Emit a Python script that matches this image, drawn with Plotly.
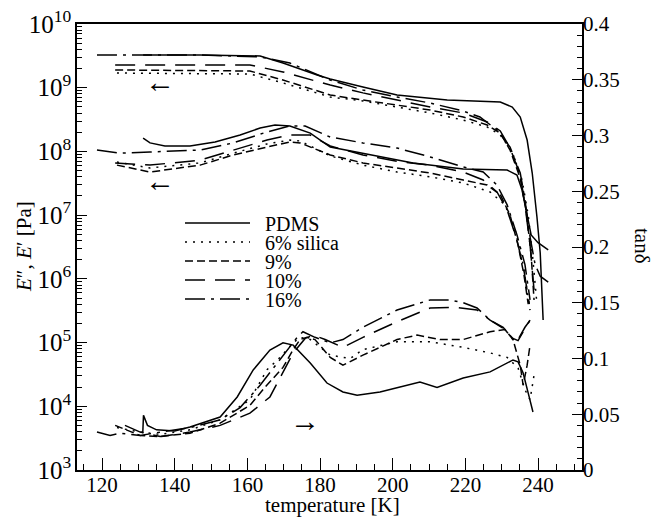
import plotly.graph_objects as go

# ---- data (temperature in K) ----
samples = ["PDMS", "6% silica", "9%", "10%", "16%"]

# storage modulus E' [Pa]
Es_T_pdms = [131.3, 147.0, 163.5, 169.8, 179.2, 182.8, 191.8, 201.2, 215.0, 229.6, 232.9, 235.1, 237.0, 238.4, 239.7, 240.6, 241.4]
Es_pdms = [3.26e9, 3.26e9, 3.15e9, 2.44e9, 1.58e9, 1.37e9, 1.03e9, 7.7e8, 6.4e8, 5.97e8, 4.98e8, 3.47e8, 1.51e8, 4.58e7, 9.35e6, 2.55e6, 2.26e5]
Es_T_6 = [124.1, 160.7, 169.8, 182.8, 191.8, 210.3, 219.4, 226.0, 229.6, 232.9, 235.6, 237.3, 238.6, 239.7]
Es_6 = [1.70e9, 1.64e9, 1.19e9, 7.15e8, 6.2e8, 4.01e8, 3.11e8, 2.42e8, 1.81e8, 9.8e7, 3.56e7, 1.0e7, 1.98e6, 4.0e5]
Es_T_9 = [123.6, 160.7, 169.8, 182.8, 191.8, 210.3, 219.4, 226.0, 229.6, 232.3, 235.1, 236.7, 238.1, 238.9]
Es_9 = [1.90e9, 1.83e9, 1.32e9, 7.7e8, 6.4e8, 4.47e8, 3.47e8, 2.60e8, 1.94e8, 1.05e8, 3.8e7, 1.2e7, 2.4e6, 4.66e5]
Es_T_10 = [123.6, 160.7, 169.8, 182.8, 191.8, 210.3, 219.4, 226.0, 229.6, 232.3, 235.1, 236.4, 237.8, 238.9]
Es_10 = [2.27e9, 2.27e9, 1.77e9, 1.10e9, 8.3e8, 4.98e8, 4.01e8, 2.90e8, 2.1e8, 1.13e8, 4.27e7, 1.45e7, 3.4e6, 6.7e5]
Es_T_16 = [118.6, 147.0, 163.5, 171.7, 182.8, 191.8, 201.2, 210.3, 219.4, 224.0, 228.7, 232.3, 235.1, 236.4, 237.8, 239.2, 240.6, 242.8]
Es_16 = [3.26e9, 3.26e9, 3.05e9, 2.44e9, 1.32e9, 9.2e8, 7.15e8, 5.75e8, 4.31e8, 3.47e8, 2.17e8, 1.17e8, 4.58e7, 1.73e7, 4.54e6, 1.67e6, 1.1e6, 8.9e5]

# loss modulus E'' [Pa]
El_T_pdms = [131.3, 133.2, 137.3, 144.2, 151.1, 158.0, 163.5, 167.6, 171.7, 177.3, 182.8, 191.8, 205.6, 219.4, 226.8, 231.5, 234.2, 235.6, 237.0, 238.1, 240.0, 242.8]
El_pdms = [1.62e8, 1.36e8, 1.22e8, 1.22e8, 1.41e8, 1.81e8, 2.33e8, 2.60e8, 2.51e8, 1.94e8, 1.17e8, 9.4e7, 6.6e7, 5.3e7, 5.1e7, 5.1e7, 4.27e7, 2.48e7, 1.0e7, 4.9e6, 3.7e6, 2.84e6]
El_T_6 = [124.1, 133.2, 147.0, 156.1, 165.4, 171.7, 174.5, 182.8, 191.8, 201.2, 210.3, 219.4, 226.8, 230.9, 233.7, 235.9, 237.8]
El_6 = [6.8e7, 5.5e7, 6.6e7, 9.4e7, 1.31e8, 1.51e8, 1.46e8, 8.5e7, 6.1e7, 4.75e7, 4.0e7, 3.2e7, 2.31e7, 1.45e7, 5.85e6, 1.67e6, 3.24e5]
El_T_9 = [124.1, 133.2, 147.0, 156.1, 165.4, 171.7, 174.5, 182.8, 191.8, 201.2, 210.3, 219.4, 226.0, 229.6, 232.3, 234.5, 236.1, 237.3]
El_9 = [6.1e7, 4.75e7, 6.1e7, 8.8e7, 1.17e8, 1.41e8, 1.36e8, 8.8e7, 6.6e7, 5.5e7, 4.58e7, 3.56e7, 2.97e7, 2.1e7, 1.0e7, 3.4e6, 1.18e6, 4.0e5]
El_T_10 = [123.6, 133.2, 147.0, 156.1, 165.4, 171.7, 177.3, 182.8, 191.8, 201.2, 210.3, 219.4, 224.9, 228.7, 231.5, 234.2, 236.1, 237.6]
El_10 = [6.6e7, 6.1e7, 7.3e7, 1.05e8, 1.51e8, 1.81e8, 1.81e8, 1.22e8, 8.8e7, 7.0e7, 6.1e7, 4.75e7, 3.56e7, 2.31e7, 1.2e7, 4.07e6, 1.38e6, 4.0e5]
El_T_16 = [118.6, 125.0, 133.2, 147.0, 156.1, 165.4, 171.7, 175.9, 182.8, 191.8, 201.2, 210.3, 219.4, 224.9, 228.7, 231.5, 234.2, 236.4, 237.8]
El_16 = [1.05e8, 9.4e7, 9.8e7, 1.05e8, 1.36e8, 2.02e8, 2.51e8, 2.51e8, 1.68e8, 1.36e8, 1.13e8, 8.2e7, 5.7e7, 4.75e7, 2.97e7, 1.45e7, 4.9e6, 1.67e6, 4.66e5]

# loss tangent tan(delta)
tan_T_pdms = [131.2, 131.4, 132.5, 135.0, 140.0, 144.2, 152.5, 157.2, 161.6, 166.2, 169.8, 172.6, 177.3, 181.9, 186.3, 190.2, 196.5, 201.2, 207.5, 212.2, 219.4, 226.8, 233.1, 234.5, 235.9, 237.3, 238.6]
tan_pdms = [0.033, 0.049, 0.040, 0.036, 0.035, 0.0386, 0.0475, 0.0655, 0.0897, 0.1076, 0.114, 0.112, 0.096, 0.078, 0.070, 0.067, 0.070, 0.074, 0.079, 0.074, 0.0825, 0.088, 0.0987, 0.097, 0.087, 0.069, 0.052]
tan_T_6 = [124.1, 130.5, 136.0, 144.2, 152.5, 160.7, 165.4, 169.0, 172.6, 174.5, 177.3, 182.8, 188.3, 191.8, 201.2, 210.3, 219.4, 226.8, 231.5, 234.5, 236.4, 237.8, 238.9]
tan_6 = [0.038, 0.034, 0.032, 0.036, 0.045, 0.063, 0.090, 0.101, 0.114, 0.119, 0.117, 0.103, 0.100, 0.108, 0.115, 0.115, 0.110, 0.105, 0.101, 0.0915, 0.072, 0.063, 0.085]
tan_T_9 = [123.6, 130.5, 136.0, 144.2, 152.5, 160.7, 164.9, 169.8, 172.6, 174.5, 176.4, 178.6, 182.8, 186.3, 191.8, 201.2, 206.7, 213.0, 219.4, 226.8, 230.9, 233.1, 235.1, 235.9, 237.0, 237.8]
tan_9 = [0.040, 0.031, 0.030, 0.033, 0.042, 0.058, 0.0744, 0.092, 0.108, 0.117, 0.119, 0.117, 0.101, 0.094, 0.103, 0.117, 0.121, 0.117, 0.117, 0.124, 0.126, 0.117, 0.094, 0.076, 0.094, 0.112]
tan_T_10 = [126.3, 130.5, 136.0, 144.2, 152.5, 160.7, 166.2, 169.8, 172.6, 175.9, 178.1, 181.4, 186.3, 191.8, 201.2, 210.3, 217.0, 223.2, 226.8, 230.4, 233.1, 234.5, 236.4, 237.8]
tan_10 = [0.040, 0.034, 0.030, 0.034, 0.040, 0.051, 0.0655, 0.087, 0.105, 0.118, 0.121, 0.117, 0.110, 0.119, 0.133, 0.1453, 0.146, 0.1435, 0.1345, 0.127, 0.118, 0.116, 0.126, 0.1345]
tan_T_16 = [118.6, 122.2, 125.0, 130.5, 136.0, 144.2, 152.5, 158.0, 163.5, 169.0, 173.7, 175.3, 178.6, 182.8, 186.3, 191.8, 201.2, 210.3, 215.8, 219.4, 223.2, 226.8, 230.4, 233.1, 234.5, 236.4, 238.4]
tan_16 = [0.034, 0.031, 0.033, 0.031, 0.034, 0.038, 0.045, 0.056, 0.076, 0.099, 0.119, 0.124, 0.119, 0.114, 0.117, 0.128, 0.1435, 0.1525, 0.1525, 0.150, 0.1453, 0.1345, 0.128, 0.117, 0.117, 0.128, 0.137]

# line style per sample
DASHES = ["solid", "2px,6px", "8px,4px", "20px,10px", "20px,6px,3px,6px"]
FONT = "serif"

storage = [(Es_T_pdms, Es_pdms), (Es_T_6, Es_6), (Es_T_9, Es_9), (Es_T_10, Es_10), (Es_T_16, Es_16)]
loss = [(El_T_pdms, El_pdms), (El_T_6, El_6), (El_T_9, El_9), (El_T_10, El_10), (El_T_16, El_16)]
tand = [(tan_T_pdms, tan_pdms), (tan_T_6, tan_6), (tan_T_9, tan_9), (tan_T_10, tan_10), (tan_T_16, tan_16)]

fig = go.Figure()
for i, name in enumerate(samples):
    line = dict(color="black", width=1.5, dash=DASHES[i])
    for (t, v), ax in ((storage[i], "y"), (loss[i], "y"), (tand[i], "y2")):
        fig.add_trace(go.Scatter(x=t, y=v, mode="lines", line=line, yaxis=ax,
                                 name=name, showlegend=False, hoverinfo="skip"))

# page body has an 8px margin, so the figure is drawn 8px in and 8px down
OFF = 8
W, HT = 659 - OFF, 522 - OFF
# plot frame in screen pixels of the reference
L, R, TOP, BOT = 77, 582, 24, 470
def px(x):
    return (x - L) / (R - L)
def py(y):
    return (BOT - y) / (BOT - TOP)

shapes = []
annotations = []
for i, name in enumerate(samples):
    yy = 223 + 19 * i
    shapes.append(dict(type="line", xref="paper", yref="paper",
                       x0=px(185), x1=px(250), y0=py(yy), y1=py(yy),
                       line=dict(color="black", width=1.5, dash=DASHES[i])))
    annotations.append(dict(xref="paper", yref="paper", x=px(263), y=py(yy + 1),
                            text=name, showarrow=False, xanchor="left", yanchor="middle",
                            font=dict(family=FONT, size=20)))

# arrows telling which axis each group belongs to
arrow_font = dict(family=FONT, size=30)
annotations += [
    dict(x=136.0, y=9.09, xref="x", yref="y", text="←", showarrow=False, font=arrow_font,
         xanchor="center", yanchor="middle"),
    dict(x=136.0, y=7.55, xref="x", yref="y", text="←", showarrow=False, font=arrow_font,
         xanchor="center", yanchor="middle"),
    dict(x=175.9, y=0.0448, xref="x", yref="y2", text="→", showarrow=False, font=arrow_font,
         xanchor="center", yanchor="middle"),
]
# axis titles
title_font = dict(family=FONT, size=21)
annotations += [
    dict(xref="paper", yref="paper", x=px(332), y=py(505), text="temperature [K]",
         showarrow=False, font=title_font, xanchor="center", yanchor="middle"),
    dict(xref="paper", yref="paper", x=px(24), y=py(247), text="<i>E</i>″, <i>E</i>′ [Pa]",
         textangle=-90, showarrow=False, font=title_font, xanchor="center", yanchor="middle"),
    dict(xref="paper", yref="paper", x=px(642), y=py(246), text="tanδ",
         textangle=90, showarrow=False, font=title_font, xanchor="center", yanchor="middle"),
]

axis_common = dict(showgrid=False, zeroline=False, showline=True, linecolor="black",
                   linewidth=1.5, ticks="inside", tickcolor="black", tickwidth=1.2,
                   automargin=False, ticklabeloverflow="allow")

fig.update_layout(
    width=W, height=HT,
    margin=dict(l=L - OFF, r=W - (R - OFF), t=TOP - OFF, b=HT - (BOT - OFF)),
    paper_bgcolor="white", plot_bgcolor="white",
    font=dict(family=FONT, color="black", size=21),
    showlegend=False,
    shapes=shapes, annotations=annotations,
    xaxis=dict(range=[113.1, 252.1], tick0=120, dtick=20, ticklen=12, mirror=True,
               ticklabelstandoff=-5, tickfont=dict(family=FONT, size=21),
               minor=dict(dtick=5, ticks="inside", ticklen=6, tickcolor="black", showgrid=False),
               **axis_common),
    yaxis=dict(type="log", range=[2.9999, 10.0001], dtick=1, exponentformat="power", ticklen=10,
               tickfont=dict(family=FONT, size=20),
               minor=dict(dtick="D1", ticks="inside", ticklen=5, tickcolor="black", showgrid=False),
               **axis_common),
    yaxis2=dict(overlaying="y", side="right", range=[0, 0.4], dtick=0.05, ticklen=10,
                ticklabelstandoff=-5, tickfont=dict(family=FONT, size=21),
                minor=dict(dtick=0.01, ticks="inside", ticklen=5, tickcolor="black", showgrid=False),
                **axis_common),
)

fig.write_html("out.html")
